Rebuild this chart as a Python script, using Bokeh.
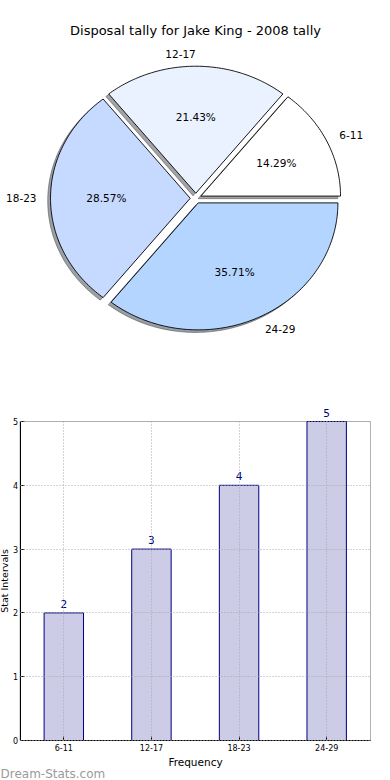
import math
from bokeh.plotting import figure
from bokeh.models import (ColumnDataSource, Range1d, FixedTicker, LabelSet, Label,
                          BoxAnnotation)
from bokeh.layouts import column
from bokeh.embed import file_html
from bokeh.resources import INLINE
from bokeh.core.properties import value

# ---------------- data ----------------
title_text = "Disposal tally for Jake King - 2008 tally"
categories = ["6-11", "12-17", "18-23", "24-29"]
counts = [2, 3, 4, 5]
pie_colors = ["#ffffff", "#eaf1ff", "#c6d9ff", "#b3d5ff"]
explode = [0.04, 0.04, 0.04, 0.04]
y_ticks = [0, 1, 2, 3, 4, 5]
x_label = "Frequency"
y_label = "Stat Intervals"
watermark = "Dream-Stats.com"

FONT = "DejaVu Sans"
W = 390
H1 = 390
H2 = 398
OFF = 8   # page is drawn shifted by the negative margin below

# ---------------- pie ----------------
CX, CY, RX, RY = 195.3 + OFF, 197.8 + OFF, 139.7, 127.0
pie = figure(width=W, height=H1,
             x_range=Range1d(-CX / RX, (W - CX) / RX),
             y_range=Range1d(-(H1 - CY) / RY, CY / RY),
             output_backend="svg", toolbar_location=None,
             x_axis_location=None, y_axis_location=None, min_border=0)
pie.grid.visible = False
pie.outline_line_color = None


def shade(hexcol, k=0.3):
    r = int(hexcol[1:3], 16); g = int(hexcol[3:5], 16); b = int(hexcol[5:7], 16)
    return "#%02x%02x%02x" % (int(r * k), int(g * k), int(b * k))


total = float(sum(counts))
start = 0.0
wxs, wys, sxs, sys_, shcols = [], [], [], [], []
lx, ly, lal, px_, py_, ptxt = [], [], [], [], [], []
for c, e, col in zip(counts, explode, pie_colors):
    frac = c / total
    a0 = 2 * math.pi * start
    a1 = 2 * math.pi * (start + frac)
    am = 0.5 * (a0 + a1)
    ox, oy = e * math.cos(am), e * math.sin(am)
    n = max(10, int(360 * frac))
    xs = [ox] + [ox + math.cos(a0 + (a1 - a0) * i / n) for i in range(n + 1)]
    ys = [oy] + [oy + math.sin(a0 + (a1 - a0) * i / n) for i in range(n + 1)]
    wxs.append(xs); wys.append(ys)
    sxs.append([x - 0.02 for x in xs]); sys_.append([y - 0.02 for y in ys])
    shcols.append(shade(col))
    ca, sa = math.cos(am), math.sin(am)
    lx.append(ox + 1.1 * ca); ly.append(oy + 1.1 * sa)
    lal.append("left" if ca > 1e-6 else "right")
    px_.append(ox + 0.6 * ca); py_.append(oy + 0.6 * sa)
    ptxt.append("%.2f%%" % (100 * frac))
    start += frac

pie.patches(xs=sxs, ys=sys_, fill_color=shcols, fill_alpha=0.5,
            line_color=shcols, line_alpha=0.5, line_width=1)
pie.patches(xs=wxs, ys=wys, fill_color=pie_colors, line_color="black", line_width=0.9)
pie.text(x=lx, y=ly, text=categories, text_align=lal, text_baseline="middle",
         text_font=value(FONT), text_font_size="10.5px", text_color="black")
pie.text(x=px_, y=py_, text=ptxt, text_align="center", text_baseline="middle",
         text_font=value(FONT), text_font_size="10.5px", text_color="black")
pie.add_layout(Label(x=(195 + OFF - CX) / RX, y=(CY - 29.5 - OFF) / RY, text=title_text,
                     text_align="center", text_baseline="middle",
                     text_font=FONT, text_font_size="13px", text_color="black"))

# ---------------- bars ----------------
# axes box in the bar figure's pixels
L, R, T, B = 19.5 + OFF, 370 + OFF, 421 - H1 + OFF, 740 - H1 + OFF
pos = list(range(len(categories)))
x0, x1 = -0.5, len(categories) - 0.5
y0, y1 = 0, 5
xpp = (R - L) / (x1 - x0)
ypp = (B - T) / (y1 - y0)
bar = figure(width=W, height=H2,
             x_range=Range1d(x0 - L / xpp, x1 + (W - R) / xpp),
             y_range=Range1d(y0 - (H2 - B) / ypp, y1 + T / ypp),
             output_backend="svg", toolbar_location=None, min_border=0)
bar.outline_line_color = None
for fig in (pie, bar):
    try:
        fig.frame_align = False
    except Exception:
        pass

src = ColumnDataSource(dict(x=pos, cnt=counts, txt=[str(v) for v in counts]))
bar.vbar(x="x", top="cnt", width=0.45, source=src,
         fill_color="#ccccE6", line_color="#000080", line_width=1)

xax = bar.xaxis[0]
yax = bar.yaxis[0]
xax.fixed_location = y0
xax.bounds = (x0, x1)
xax.ticker = FixedTicker(ticks=pos)
xax.major_label_overrides = {p_: c for p_, c in zip(pos, categories)}
yax.fixed_location = x0
yax.bounds = (y0, y1)
yax.ticker = FixedTicker(ticks=y_ticks)

for ax in (xax, yax):
    ax.major_tick_in = 4
    ax.major_tick_out = 0
    ax.minor_tick_in = 0
    ax.minor_tick_out = 0
    ax.major_label_text_font = FONT
    ax.major_label_text_font_size = "8px"
    ax.major_label_text_color = "black"
    ax.axis_line_color = "black"
    ax.axis_line_width = 1
    ax.major_tick_line_color = "black"
    ax.axis_label_text_font = FONT
    ax.axis_label_text_font_style = "normal"
    ax.axis_label_text_color = "black"
xax.axis_label_text_font_size = "10.5px"
yax.axis_label_text_font_size = "9.5px"
yax.major_label_standoff = 2
xax.major_label_standoff = 3
xax.axis_label = x_label
xax.axis_label_standoff = 2
yax.axis_label = y_label
yax.axis_label_standoff = 0

bar.xgrid.ticker = FixedTicker(ticks=pos)
bar.ygrid.ticker = FixedTicker(ticks=y_ticks)
bar.xgrid.bounds = (x0, x1)
bar.ygrid.bounds = (y0, y1)
try:
    bar.xgrid.cross_bounds = (y0, y1)
    bar.ygrid.cross_bounds = (x0, x1)
except Exception:
    pass
bar.grid.grid_line_color = "#a8a8a8"
bar.grid.grid_line_dash = "1 2"
bar.grid.grid_line_width = 1
bar.grid.level = "overlay"

# the axes box
bar.add_layout(BoxAnnotation(left=x0, right=x1, bottom=y0, top=y1,
                             fill_color=None, fill_alpha=0,
                             line_color="black", line_width=1))

bar.add_layout(LabelSet(x="x", y="cnt", text="txt", source=src, y_offset=5,
                        text_align="center", text_baseline="alphabetic",
                        text_font=value(FONT), text_font_size="10.5px",
                        text_color="#000080"))

bar.add_layout(Label(x=x0 - (L - OFF) / xpp, y=y0 - (773 - 740) / ypp, text=watermark,
                     text_align="left", text_baseline="alphabetic",
                     text_font=FONT, text_font_size="12px", text_color="#9a9a9a"))

layout = column(pie, bar, spacing=0, margin=(-8, -8, -8, -8))
open("out.html", "w").write(file_html(layout, INLINE))
